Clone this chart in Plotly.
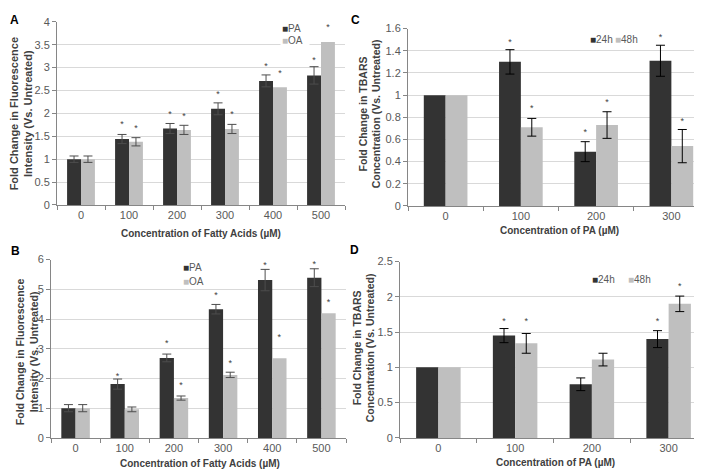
import plotly.graph_objects as go

# ---------------- data ----------------
conc_fa = ["0", "100", "200", "300", "400", "500"]
conc_pa = ["0", "100", "200", "300"]

# Panel A
a_pa = [1.0, 1.44, 1.67, 2.10, 2.71, 2.83]
a_pa_err = [0.07, 0.10, 0.11, 0.13, 0.13, 0.19]
a_oa = [1.0, 1.38, 1.64, 1.66, 2.57, 3.56]
a_oa_err = [0.07, 0.09, 0.10, 0.10, None, None]
a_pa_sig = [None, 1.745, 1.96, 2.41, 3.02, 3.14]
a_oa_sig = [None, 1.67, 1.93, 1.96, 2.87, 3.87]

# Panel B
b_pa = [1.0, 1.81, 2.69, 4.33, 5.31, 5.39]
b_pa_err = [0.12, 0.17, 0.13, 0.16, 0.36, 0.30]
b_oa = [1.0, 0.96, 1.34, 2.12, 2.68, 4.19]
b_oa_err = [0.12, 0.08, 0.07, 0.09, None, None]
b_pa_sig = [None, 2.07, 3.16, 4.77, 5.78, 5.84]
b_oa_sig = [None, None, 1.76, 2.50, 3.38, 4.55]

# Panel C
c_24 = [1.0, 1.30, 0.49, 1.31]
c_24_err = [None, 0.11, 0.09, 0.14]
c_48 = [1.0, 0.71, 0.73, 0.54]
c_48_err = [None, 0.08, 0.12, 0.15]
c_24_sig = [None, 1.474, 0.658, 1.52]
c_48_sig = [None, 0.875, 0.934, 0.763]

# Panel D
d_24 = [1.0, 1.45, 0.76, 1.40]
d_24_err = [None, 0.10, 0.09, 0.12]
d_48 = [1.0, 1.34, 1.11, 1.90]
d_48_err = [None, 0.14, 0.09, 0.11]
d_24_sig = [None, 1.645, None, 1.645]
d_48_sig = [None, 1.645, None, 2.14]

# ---------------- style ----------------
W, H = 702, 470
DARK = "#333333"
LIGHT = "#bfbfbf"
FONT = "Liberation Sans, Arial, sans-serif"
TICK_C = "#595959"
TITLE_C = "#404040"
LINE_C = "#868686"
GRID_C = "#d9d9d9"


def px(x):
    return x / W


def py(y):
    return 1 - y / H


fig = go.Figure()

panels = [
    ("x", "y", conc_fa, a_pa, a_pa_err, a_pa_sig, a_oa, a_oa_err, a_oa_sig, "#4d4d4d"),
    ("x2", "y2", conc_fa, b_pa, b_pa_err, b_pa_sig, b_oa, b_oa_err, b_oa_sig, "#4d4d4d"),
    ("x3", "y3", conc_pa, c_24, c_24_err, c_24_sig, c_48, c_48_err, c_48_sig, "#000000"),
    ("x4", "y4", conc_pa, d_24, d_24_err, d_24_sig, d_48, d_48_err, d_48_sig, "#000000"),
]

for i, (xa, ya, cats, s1, e1, g1, s2, e2, g2, ec) in enumerate(panels):
    series = [(s1, e1, g1, DARK), (s2, e2, g2, LIGHT)]
    for j, (vals, errs, sig, col) in enumerate(series):
        fig.add_trace(go.Bar(
            x=cats, y=vals, xaxis=xa, yaxis=ya,
            marker=dict(color=col, line=dict(width=0)),
            offsetgroup=str(j), showlegend=False, hoverinfo="skip",
        ))
    for j, (vals, errs, sig, col) in enumerate(series):
        # error bars only where an error exists
        ey = [v if e is not None else None for v, e in zip(vals, errs)]
        ee = [e if e is not None else 0 for e in errs]
        fig.add_trace(go.Scatter(
            x=cats, y=ey, xaxis=xa, yaxis=ya, mode="markers",
            marker=dict(size=1, opacity=0),
            error_y=dict(type="data", array=ee, visible=True,
                         color=ec, thickness=1, width=4.5),
            orientation="v", offsetgroup=str(j),
            showlegend=False, hoverinfo="skip",
        ))
    for j, (vals, errs, sig, col) in enumerate(series):
        fig.add_trace(go.Scatter(
            x=cats, y=sig, xaxis=xa, yaxis=ya, mode="text",
            text=["*" if v is not None else "" for v in sig],
            textposition="middle center", orientation="v",
            textfont=dict(family=FONT, size=9, color="#404040"),
            offsetgroup=str(j), showlegend=False, hoverinfo="skip",
        ))

domains = {
    "A": ([px(49), px(337)], [py(196), py(8)]),
    "B": ([px(43), px(338)], [py(435), py(252)]),
    "C": ([px(400), px(701)], [py(197), py(15)]),
    "D": ([px(392), px(699)], [py(435), py(254)]),
}
yranges = {"A": ([0, 4], 0.5), "B": ([0, 6], 1), "C": ([0, 1.6], 0.2), "D": ([0, 2.5], 0.5)}

layout = dict(
    width=W, height=H, margin=dict(l=0, r=0, t=0, b=0),
    paper_bgcolor="white", plot_bgcolor="white",
    barmode="group", bargap=0.42, bargroupgap=0,
    scattermode="group", scattergap=0.42,
    font=dict(family=FONT, color=TICK_C, size=11),
    showlegend=False,
)
for k, (key, (dx, dy)) in enumerate(domains.items()):
    sfx = "" if k == 0 else str(k + 1)
    rng, dt = yranges[key]
    layout["xaxis" + sfx] = dict(
        domain=dx, anchor="y" + sfx, type="category",
        showline=True, linecolor=LINE_C, linewidth=1,
        ticks="outside", tickson="boundaries", ticklen=4, tickcolor=LINE_C,
        showgrid=False, zeroline=False,
        tickfont=dict(family=FONT, size=11, color=TICK_C),
        fixedrange=True,
    )
    layout["yaxis" + sfx] = dict(
        domain=dy, anchor="x" + sfx, range=rng, dtick=dt, tick0=0,
        showline=True, linecolor=LINE_C, linewidth=1,
        ticks="outside", ticklen=4, tickcolor=LINE_C,
        showgrid=True, gridcolor=GRID_C, gridwidth=1, zeroline=False,
        tickfont=dict(family=FONT, size=11, color=TICK_C),
        fixedrange=True,
    )

ann = []


def text_ann(x, y, text, size, color=TITLE_C, bold=True, angle=0, xanchor="center", **kw):
    t = "<b>" + text + "</b>" if bold else text
    ann.append(dict(
        x=px(x), y=py(y), xref="paper", yref="paper", text=t, showarrow=False,
        textangle=angle, xanchor=xanchor, yanchor="middle",
        font=dict(family=FONT, size=size, color=color), **kw,
    ))


# panel letters
text_ann(6, 6, "A", 12, color="#000000")
text_ann(7, 243, "B", 12, color="#000000")
text_ann(347, 6, "C", 12, color="#000000")
text_ann(346, 242, "D", 12, color="#000000")

# axis titles
text_ann(13, 103, "Fold Change in Fluorescence<br>Intensity (Vs. Untreated)", 11, angle=-90)
text_ann(193, 225, "Concentration of Fatty Acids (µM)", 10)
text_ann(19, 347, "Fold Change in Fluorescence<br>Intensity (Vs. Untreated)", 10.5, angle=-90)
text_ann(192, 461, "Concentration of Fatty Acids (µM)", 10)
text_ann(362, 103, "Fold Change in TBARS<br>Concentration (Vs. Untreated)", 10.5, angle=-90)
text_ann(551, 222, "Concentration of PA (µM)", 10)
text_ann(356, 343, "Fold Change in TBARS<br>Concentration (Vs. Untreated)", 10.5, angle=-90)
text_ann(547, 460, "Concentration of PA (µM)", 10)


def legend_item(x, y, label, col, bg=None):
    t = '<span style="color:%s">■</span>%s' % (col, label)
    extra = {}
    if bg:
        extra = dict(bgcolor=bg)
    ann.append(dict(
        x=px(x), y=py(y), xref="paper", yref="paper", text=t, showarrow=False,
        xanchor="left", yanchor="middle",
        font=dict(family=FONT, size=10, color=TICK_C), **extra,
    ))


# legends
legend_item(272, 15, "PA  ", DARK, bg="white")
legend_item(272, 27, "OA  ", LIGHT, bg="white")
legend_item(173, 260, "PA", DARK)
legend_item(173, 275, "OA", LIGHT)
legend_item(580, 26, "24h", DARK)
legend_item(605, 26, "48h", LIGHT)
legend_item(582, 272, "24h", DARK)
legend_item(618, 272, "48h", LIGHT)

layout["annotations"] = ann
fig.update_layout(**layout)
fig.write_html("out.html")
